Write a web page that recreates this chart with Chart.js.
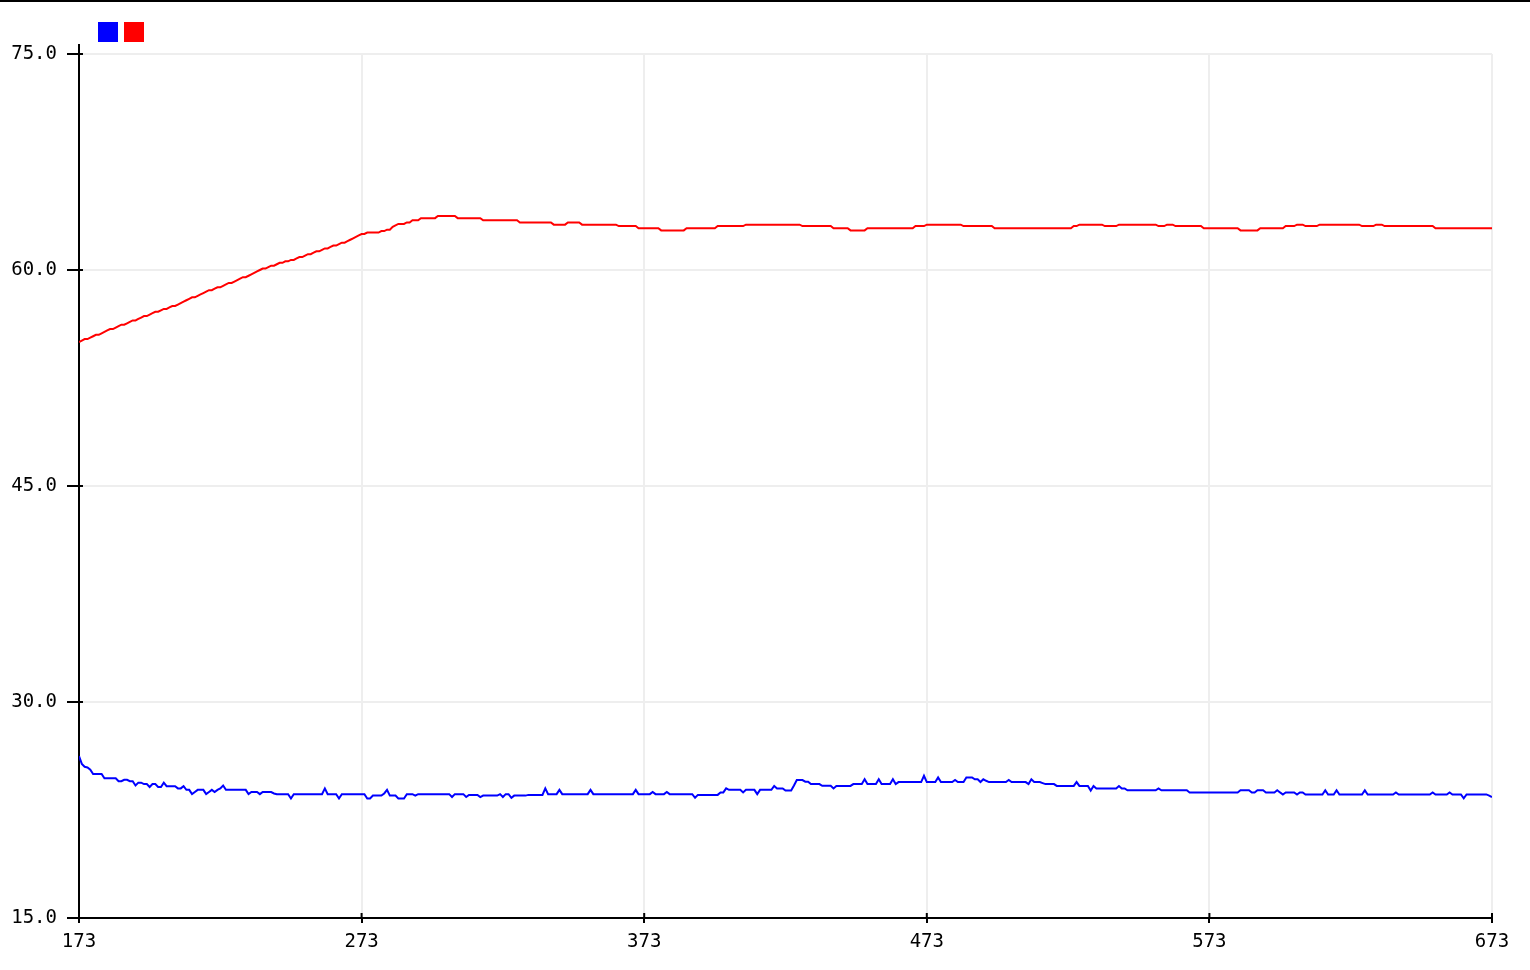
<!DOCTYPE html>
<html>
<head>
<meta charset="utf-8">
<title>Serial plotter</title>
<script src="https://cdn.jsdelivr.net/npm/chart.js@4.4.1/dist/chart.umd.min.js"></script>
<style>
  html, body { margin: 0; padding: 0; background: #fff; }
  #wrap { width: 1530px; height: 970px; position: relative; }
</style>
</head>
<body>
<div id="wrap"><canvas id="plot" width="1530" height="970"></canvas></div>
<script>
// sample window shown on the x axis
var xFirst = 173;
var xLast = 673;
var xTickValues = [173, 273, 373, 473, 573, 673];
var yTickValues = [15, 30, 45, 60, 75];

// each pair: [sample where the reading starts, reading]
// the reading holds until the next pair
var blueSteps = [
  [173,26.25],[174,25.7],[175,25.5],[176,25.45],[177,25.3],[178,25.0],[182,24.7],[187,24.5],[189,24.6],[191,24.5],
  [193,24.2],[194,24.4],[196,24.3],[198,24.1],[199,24.3],[201,24.1],[203,24.4],[204,24.15],[208,24.0],[210,24.15],
  [211,23.9],[213,23.6],[214,23.75],[215,23.9],[218,23.6],[219,23.75],[220,23.9],[221,23.75],[222,23.9],[223,24.0],
  [224,24.2],[225,23.9],[233,23.6],[234,23.75],[237,23.6],[238,23.75],[242,23.65],[243,23.6],[248,23.3],[249,23.6],
  [260,24.0],[261,23.6],[265,23.3],[266,23.6],[275,23.3],[277,23.5],[281,23.65],[282,23.9],[283,23.5],[286,23.3],
  [289,23.6],[292,23.5],[293,23.6],[305,23.4],[306,23.6],[310,23.4],[311,23.55],[315,23.4],[316,23.5],[322,23.6],
  [323,23.4],[324,23.6],[326,23.35],[327,23.5],[332,23.55],[338,24.0],[339,23.6],[343,23.9],[344,23.6],[354,23.9],
  [355,23.6],[370,23.9],[371,23.6],[376,23.75],[377,23.6],[381,23.75],[382,23.6],[391,23.35],[392,23.55],[400,23.72],
  [402,24.0],[403,23.9],[408,23.72],[409,23.9],[413,23.6],[414,23.9],[419,24.17],[420,24.0],[423,23.85],[426,24.2],
  [427,24.58],[430,24.47],[432,24.3],[436,24.18],[440,24.0],[441,24.17],[447,24.3],[451,24.63],[452,24.3],[456,24.63],
  [457,24.3],[461,24.63],[462,24.3],[463,24.44],[472,24.88],[473,24.44],[477,24.76],[478,24.44],[483,24.58],[484,24.44],
  [487,24.76],[490,24.63],[492,24.44],[493,24.63],[494,24.53],[495,24.44],[502,24.58],[503,24.44],[509,24.3],[510,24.63],
  [511,24.44],[514,24.37],[515,24.3],[519,24.17],[526,24.44],[527,24.17],[531,23.85],[532,24.17],[533,24.0],[541,24.17],
  [542,24.0],[544,23.87],[555,24.0],[556,23.87],[566,23.72],[584,23.87],[588,23.72],[590,23.87],[593,23.72],[597,23.87],
  [598,23.72],[599,23.58],[600,23.72],[604,23.58],[605,23.72],[607,23.58],[614,23.87],[615,23.58],[618,23.87],[619,23.58],
  [628,23.87],[629,23.58],[639,23.72],[640,23.58],[652,23.72],[653,23.58],[658,23.72],[659,23.58],[663,23.31],[664,23.58],
  [672,23.5],[673,23.4]
];

var redSteps = [
  [173,55.0],[174,55.1],[175,55.2],[177,55.3],[178,55.4],[179,55.5],[181,55.6],[182,55.7],[183,55.8],[184,55.9],
  [186,56.0],[187,56.1],[188,56.2],[190,56.3],[191,56.4],[192,56.5],[194,56.6],[195,56.7],[196,56.8],[198,56.9],
  [199,57.0],[200,57.1],[202,57.2],[203,57.3],[205,57.4],[206,57.5],[208,57.6],[209,57.7],[210,57.8],[211,57.9],
  [212,58.0],[213,58.1],[215,58.2],[216,58.3],[217,58.4],[218,58.5],[219,58.6],[221,58.7],[222,58.8],[224,58.9],
  [225,59.0],[226,59.1],[228,59.2],[229,59.3],[230,59.4],[231,59.5],[233,59.6],[234,59.7],[235,59.8],[236,59.9],
  [237,60.0],[238,60.1],[240,60.2],[241,60.3],[243,60.4],[244,60.5],[246,60.6],[248,60.7],[250,60.8],[251,60.9],
  [253,61.0],[254,61.1],[256,61.2],[257,61.3],[259,61.4],[260,61.5],[262,61.6],[263,61.7],[265,61.8],[266,61.9],
  [268,62.0],[269,62.1],[270,62.2],[271,62.3],[272,62.4],[273,62.5],[275,62.6],[280,62.7],[282,62.8],[284,63.0],
  [285,63.1],[286,63.2],[289,63.3],[291,63.45],[294,63.6],[300,63.75],[307,63.6],[316,63.45],[329,63.3],[341,63.15],
  [346,63.3],[351,63.15],[364,63.05],[371,62.9],[379,62.75],[388,62.9],[399,63.05],[409,63.15],[429,63.05],[440,62.9],
  [446,62.75],[452,62.9],[469,63.05],[473,63.15],[486,63.05],[497,62.9],[525,63.05],[527,63.15],[536,63.05],[541,63.15],
  [555,63.05],[558,63.15],[561,63.05],[571,62.9],[584,62.75],[591,62.9],[600,63.05],[604,63.15],[607,63.05],[612,63.15],
  [627,63.05],[632,63.15],[635,63.05],[653,62.9]
];

// a level is drawn from its first to its last sample
function stepsToPoints(steps) {
  var points = [];
  for (var i = 0; i < steps.length; i++) {
    var start = steps[i][0];
    var end = (i + 1 < steps.length) ? steps[i + 1][0] - 1 : xLast;
    points.push({ x: start, y: steps[i][1] });
    if (end > start) {
      points.push({ x: end, y: steps[i][1] });
    }
  }
  return points;
}

var monoFont = { family: "'DejaVu Sans Mono', monospace", size: 19 };

// axis end, inner tick marks and the colour squares
var plotterFrame = {
  id: 'plotterFrame',
  afterDraw: function (chart) {
    var ctx = chart.ctx;
    var area = chart.chartArea;
    var xs = chart.scales.x;
    var ys = chart.scales.y;
    ctx.save();
    ctx.strokeStyle = '#000';
    ctx.lineWidth = 2;
    ctx.beginPath();
    ctx.moveTo(area.left, area.top - 10);
    ctx.lineTo(area.left, area.top);
    yTickValues.forEach(function (v) {
      var py = ys.getPixelForValue(v);
      ctx.moveTo(area.left, py);
      ctx.lineTo(area.left + 4, py);
    });
    xTickValues.forEach(function (v) {
      var px = xs.getPixelForValue(v);
      ctx.moveTo(px, area.bottom);
      ctx.lineTo(px, area.bottom - 5);
    });
    ctx.stroke();

    chart.data.datasets.forEach(function (ds, i) {
      ctx.fillStyle = ds.borderColor;
      ctx.fillRect(area.left + 19 + i * 26, area.top - 32, 20, 20);
    });

    ctx.fillStyle = '#000';
    ctx.fillRect(0, 0, chart.width, 2);
    ctx.restore();
  }
};

var plot = new Chart(document.getElementById('plot'), {
  type: 'line',
  data: {
    datasets: [{
      label: 'Value 1',
      data: stepsToPoints(blueSteps),
      borderColor: '#0000ff',
      borderWidth: 2,
      pointRadius: 0,
      tension: 0,
      fill: false
    }, {
      label: 'Value 2',
      data: stepsToPoints(redSteps),
      borderColor: '#ff0000',
      borderWidth: 2,
      pointRadius: 0,
      tension: 0,
      fill: false
    }]
  },
  options: {
    responsive: false,
    animation: false,
    events: [],
    layout: { padding: { top: 54, right: 38, left: 0, bottom: 0 } },
    plugins: {
      legend: { display: false },
      tooltip: { enabled: false }
    },
    scales: {
      x: {
        type: 'linear',
        min: xFirst,
        max: xLast,
        afterBuildTicks: function (scale) {
          scale.ticks = xTickValues.map(function (v) { return { value: v }; });
        },
        afterFit: function (scale) { scale.height = 52; },
        grid: { color: '#eeeeee', lineWidth: 2, tickColor: '#000', tickLength: 5 },
        border: { color: '#000', width: 2 },
        ticks: {
          color: '#000',
          font: monoFont,
          padding: 8,
          autoSkip: false,
          maxRotation: 0,
          callback: function (v) { return String(v); }
        }
      },
      y: {
        min: 15,
        max: 75,
        afterBuildTicks: function (scale) {
          scale.ticks = yTickValues.map(function (v) { return { value: v }; });
        },
        afterFit: function (scale) { scale.width = 79; },
        grid: { color: '#eeeeee', lineWidth: 2, tickColor: '#000', tickLength: 12 },
        border: { color: '#000', width: 2 },
        ticks: {
          color: '#000',
          font: monoFont,
          padding: 10,
          callback: function (v) { return v.toFixed(1); }
        }
      }
    }
  },
  plugins: [plotterFrame]
});
</script>
</body>
</html>
